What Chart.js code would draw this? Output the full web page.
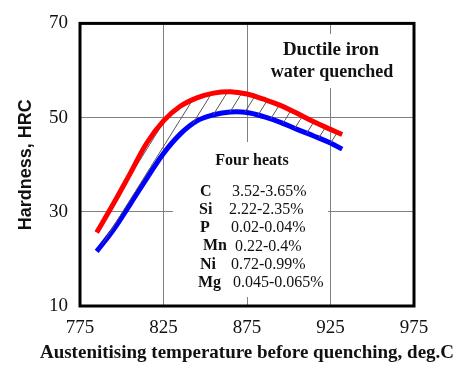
<!DOCTYPE html>
<html>
<head>
<meta charset="utf-8">
<script src="https://cdn.jsdelivr.net/npm/chart.js@4/dist/chart.umd.min.js"></script>
<style>
  html, body { margin: 0; padding: 0; background: #fff; }
</style>
</head>
<body>
<canvas id="chart" width="474" height="387"></canvas>
<script>
// ------------- DATA ----------------
const temps = [785, 795, 805, 815, 825, 835, 845, 855, 865, 875, 885, 895, 905, 915, 925, 932];
const hardnessUpper = [25.6, 31.7, 38.1, 44.6, 49.3, 52.4, 54.2, 55.2, 55.5, 55.0, 53.9, 52.6, 50.9, 49.1, 47.5, 46.4];
const hardnessLower = [21.6, 26.2, 31.6, 37.1, 42.4, 46.5, 49.3, 50.6, 51.2, 51.1, 50.2, 49.0, 47.5, 46.1, 44.6, 43.3];

const xTitle = "Austenitising temperature before quenching, deg.C";
const boxTitle = ["Ductile iron", "water quenched"];
const heatsTitle = "Four heats";
const elements = ["C", "Si", "P", "Mn", "Ni", "Mg"];
const ranges = ["3.52-3.65%", "2.22-2.35%", "0.02-0.04%", "0.22-0.4%", "0.72-0.99%", "0.045-0.065%"];


// ------------- HATCH PATTERN ----------------
function hatchPattern() {
    const c = document.createElement("canvas");
    const w = 15, h = 24;
    c.width = w;
    c.height = h;
    const g = c.getContext("2d");
    g.strokeStyle = "#555";
    g.lineWidth = 1;
    g.beginPath();
    g.moveTo(-w, 2 * h);
    g.lineTo(2 * w, -h);
    g.stroke();
    return g.createPattern(c, "repeat");
}

const serif = "'Liberation Serif', 'Times New Roman', serif";

// white boxes + notes drawn over the grid
const notes = {
    id: "notes",
    beforeDatasetsDraw(chart) {
        const c = chart.ctx;
        c.save();
        c.fillStyle = "#fff";
        c.fillRect(264, 34, 136, 54);
        c.fillRect(173, 142, 155, 155);

        c.fillStyle = "#111";
        c.textAlign = "center";
        c.textBaseline = "middle";
        c.font = "bold 19px " + serif;
        c.fillText(boxTitle[0], 331, 50);
        c.font = "bold 18px " + serif;
        c.fillText(boxTitle[1], 332, 72);

        c.font = "bold 16px " + serif;
        c.fillText(heatsTitle, 252, 161);

        c.textAlign = "left";
        const lx = [200, 199, 200, 203, 200, 198];
        const vx = [232, 229, 231, 235, 231, 233];
        elements.forEach((el, i) => {
            const y = 192 + i * 18.1;
            c.font = "bold 16px " + serif;
            c.fillText(el, lx[i], y);
            c.font = "16px " + serif;
            c.fillText(ranges[i], vx[i], y);
        });
        c.restore();
    },
    afterDraw(chart) {
        const a = chart.chartArea;
        const c = chart.ctx;
        c.save();
        c.strokeStyle = "#000";
        c.lineWidth = 3;
        c.strokeRect(a.left, a.top, a.right - a.left, a.bottom - a.top);

        // x title drawn here, the scale title would squeeze it to the axis width
        c.fillStyle = "#111";
        c.textAlign = "center";
        c.textBaseline = "middle";
        c.font = "bold 19px " + serif;
        c.fillText(xTitle, 247, 353);
        c.restore();
    }
};


// ------------ CREATE CHART ------------------
const ctx = document.getElementById("chart");

new Chart(ctx, {
    type: "line",
    data: {
        datasets: [
            {
                label: "Upper",
                data: temps.map((t, i) => ({ x: t, y: hardnessUpper[i] })),
                borderColor: "#ff0000",
                borderWidth: 5,
                pointRadius: 0,
                tension: 0.4,
                fill: { target: "+1" },
                backgroundColor: hatchPattern(),
            },
            {
                label: "Lower",
                data: temps.map((t, i) => ({ x: t, y: hardnessLower[i] })),
                borderColor: "#0000ff",
                borderWidth: 5,
                pointRadius: 0,
                tension: 0.4,
                fill: false,
            },
        ],
    },
    options: {
        responsive: false,
        animation: false,
        layout: { padding: { top: 21, right: 60, bottom: 0, left: 0 } },
        plugins: {
            legend: { display: false },
            tooltip: { enabled: false },
        },
        scales: {
            x: {
                type: "linear",
                min: 775,
                max: 975,
                ticks: {
                    stepSize: 50,
                    color: "#111",
                    padding: 11,
                    font: { family: serif, size: 19 },
                },
                grid: { color: "#808080", lineWidth: 1, drawTicks: false },
                border: { display: false },
                afterFit(scale) { scale.height = 81; },
            },
            y: {
                min: 10,
                max: 70,
                ticks: {
                    stepSize: 20,
                    color: "#111",
                    padding: 12,
                    font: { family: serif, size: 19 },
                },
                grid: { color: "#808080", lineWidth: 1, drawTicks: false },
                border: { display: false },
                title: {
                    display: true,
                    text: "Hardness, HRC",
                    color: "#111",
                    font: { family: "'Liberation Sans', Arial, sans-serif", size: 18, weight: "bold" },
                    padding: { top: 15, bottom: 0 },
                },
                afterFit(scale) { scale.width = 80; },
            },
        },
    },
    plugins: [notes],
});
</script>
</body>
</html>
